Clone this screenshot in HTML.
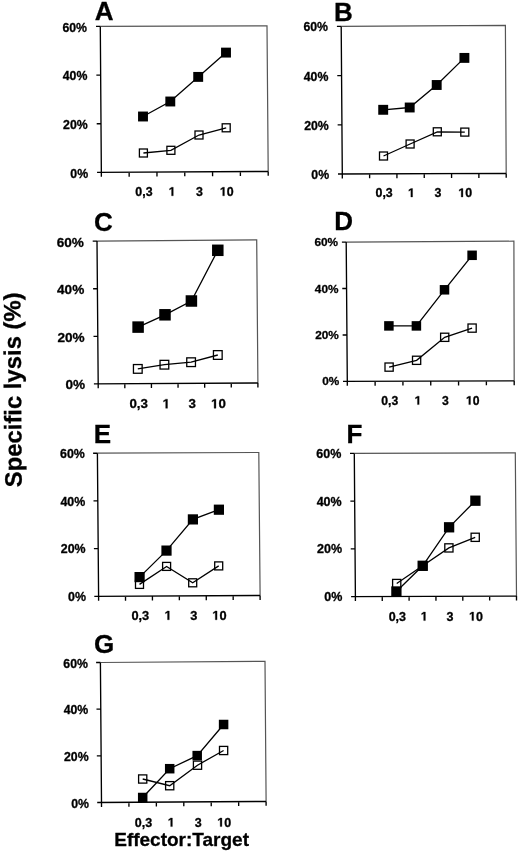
<!DOCTYPE html>
<html><head><meta charset="utf-8"><title>Specific lysis</title>
<style>
html,body{margin:0;padding:0;background:#fff;}
body{width:520px;height:852px;overflow:hidden;}
svg{display:block;will-change:transform;}
text{font-family:"Liberation Sans", sans-serif;font-weight:bold;fill:#000;stroke:#000;stroke-width:0.3px;}
</style></head>
<body>
<svg width="520" height="852" viewBox="0 0 520 852">
<rect width="520" height="852" fill="#fff"/>
<text x="94.75" y="20.20" font-size="26">A</text>
<path d="M100.30 26.40 L267.00 25.90 L268.20 171.40" fill="none" stroke="#555" stroke-width="1.2"/>
<text x="70.30" y="177.63" font-size="12.3">0%</text>
<text x="63.11" y="128.96" font-size="12.3">20%</text>
<text x="62.76" y="80.30" font-size="12.3">40%</text>
<text x="62.41" y="31.63" font-size="12.3">60%</text>
<path d="M100.30 26.40 L101.35 172.40 M97.05 172.40 L268.20 171.40 M97.05 172.40 H101.35 M96.70 123.73 H101.00 M96.35 75.07 H100.65 M96.00 26.40 H100.30 M129.16 172.23 V176.63 M156.97 172.07 V176.47 M184.77 171.90 V176.30 M212.58 171.73 V176.13 M240.39 171.57 V175.97 M268.20 171.40 V175.80 M101.35 172.40 V176.80" fill="none" stroke="#000" stroke-width="1.35"/>
<text x="135.36" y="195.80" font-size="12.4">0,3</text>
<path transform="translate(168.68 195.80) scale(0.00605 -0.00605)" d="M478 0V1170L140 959V1180L493 1409H759V0Z" fill="#000" stroke="#000" stroke-width="0.3" vector-effect="non-scaling-stroke"/>
<text x="196.03" y="195.80" font-size="12.4">3</text>
<path transform="translate(219.83 195.80) scale(0.00605 -0.00605)" d="M478 0V1170L140 959V1180L493 1409H759V0Z" fill="#000" stroke="#000" stroke-width="0.3" vector-effect="non-scaling-stroke"/>
<text x="226.73" y="195.80" font-size="12.4">0</text>
<rect x="139.40" y="149.00" width="8.00" height="8.00" fill="#fff" stroke="#000" stroke-width="1.3"/>
<rect x="166.90" y="146.30" width="8.00" height="8.00" fill="#fff" stroke="#000" stroke-width="1.3"/>
<rect x="195.00" y="131.00" width="8.00" height="8.00" fill="#fff" stroke="#000" stroke-width="1.3"/>
<rect x="222.20" y="123.80" width="8.00" height="8.00" fill="#fff" stroke="#000" stroke-width="1.3"/>
<rect x="138.05" y="111.55" width="9.90" height="9.90" fill="#000"/>
<rect x="165.35" y="96.55" width="9.90" height="9.90" fill="#000"/>
<rect x="193.25" y="71.95" width="9.90" height="9.90" fill="#000"/>
<rect x="221.05" y="47.65" width="9.90" height="9.90" fill="#000"/>
<path d="M143.00 116.50 L170.30 101.50 L198.20 76.90 L226.00 52.60" fill="none" stroke="#000" stroke-width="1.3"/>
<path d="M143.40 153.00 L170.90 150.30 L199.00 135.00 L226.20 127.80" fill="none" stroke="#000" stroke-width="1.3"/>
<text x="334.06" y="20.80" font-size="26">B</text>
<path d="M341.20 26.40 L505.40 25.40 L506.20 173.40" fill="none" stroke="#555" stroke-width="1.2"/>
<text x="311.35" y="179.03" font-size="12.3">0%</text>
<text x="304.14" y="129.83" font-size="12.3">20%</text>
<text x="303.77" y="80.63" font-size="12.3">40%</text>
<text x="303.41" y="31.43" font-size="12.3">60%</text>
<path d="M341.20 26.40 L342.30 174.00 M338.00 174.00 L506.20 173.40 M338.00 174.00 H342.30 M337.63 124.80 H341.93 M337.27 75.60 H341.57 M336.90 26.40 H341.20 M369.62 173.90 V178.30 M396.93 173.80 V178.20 M424.25 173.70 V178.10 M451.57 173.60 V178.00 M478.88 173.50 V177.90 M506.20 173.40 V177.80 M342.30 174.00 V178.40" fill="none" stroke="#000" stroke-width="1.35"/>
<text x="375.51" y="197.00" font-size="12.4">0,3</text>
<path transform="translate(407.98 197.00) scale(0.00605 -0.00605)" d="M478 0V1170L140 959V1180L493 1409H759V0Z" fill="#000" stroke="#000" stroke-width="0.3" vector-effect="non-scaling-stroke"/>
<text x="434.43" y="197.00" font-size="12.4">3</text>
<path transform="translate(458.33 197.00) scale(0.00605 -0.00605)" d="M478 0V1170L140 959V1180L493 1409H759V0Z" fill="#000" stroke="#000" stroke-width="0.3" vector-effect="non-scaling-stroke"/>
<text x="465.23" y="197.00" font-size="12.4">0</text>
<rect x="379.50" y="152.00" width="8.00" height="8.00" fill="#fff" stroke="#000" stroke-width="1.3"/>
<rect x="406.10" y="140.00" width="8.00" height="8.00" fill="#fff" stroke="#000" stroke-width="1.3"/>
<rect x="433.30" y="127.80" width="8.00" height="8.00" fill="#fff" stroke="#000" stroke-width="1.3"/>
<rect x="460.80" y="128.10" width="8.00" height="8.00" fill="#fff" stroke="#000" stroke-width="1.3"/>
<rect x="378.25" y="104.85" width="9.90" height="9.90" fill="#000"/>
<rect x="404.75" y="102.55" width="9.90" height="9.90" fill="#000"/>
<rect x="431.75" y="80.05" width="9.90" height="9.90" fill="#000"/>
<rect x="459.45" y="52.95" width="9.90" height="9.90" fill="#000"/>
<path d="M383.20 109.80 L409.70 107.50 L436.70 85.00 L464.40 57.90" fill="none" stroke="#000" stroke-width="1.3"/>
<path d="M383.50 156.00 L410.10 144.00 L437.30 131.80 L464.80 132.10" fill="none" stroke="#000" stroke-width="1.3"/>
<text x="94.03" y="230.50" font-size="26">C</text>
<path d="M97.00 241.10 L256.70 239.90 L257.90 383.00" fill="none" stroke="#555" stroke-width="1.2"/>
<text x="65.40" y="389.38" font-size="13.6">0%</text>
<text x="57.44" y="341.78" font-size="13.6">20%</text>
<text x="57.04" y="294.18" font-size="13.6">40%</text>
<text x="56.64" y="246.58" font-size="13.6">60%</text>
<path d="M97.00 241.10 L98.20 383.90 M93.90 383.90 L257.90 383.00 M93.90 383.90 H98.20 M93.50 336.30 H97.80 M93.10 288.70 H97.40 M92.70 241.10 H97.00 M124.82 383.75 V388.15 M151.43 383.60 V388.00 M178.05 383.45 V387.85 M204.67 383.30 V387.70 M231.28 383.15 V387.55 M257.90 383.00 V387.40 M98.20 383.90 V388.30" fill="none" stroke="#000" stroke-width="1.35"/>
<text x="129.48" y="408.30" font-size="13.3">0,3</text>
<path transform="translate(162.58 408.30) scale(0.00649 -0.00649)" d="M478 0V1170L140 959V1180L493 1409H759V0Z" fill="#000" stroke="#000" stroke-width="0.3" vector-effect="non-scaling-stroke"/>
<text x="188.44" y="408.30" font-size="13.3">3</text>
<path transform="translate(211.02 408.30) scale(0.00649 -0.00649)" d="M478 0V1170L140 959V1180L493 1409H759V0Z" fill="#000" stroke="#000" stroke-width="0.3" vector-effect="non-scaling-stroke"/>
<text x="218.42" y="408.30" font-size="13.3">0</text>
<rect x="133.45" y="364.55" width="8.70" height="8.70" fill="#fff" stroke="#000" stroke-width="1.3"/>
<rect x="160.05" y="360.35" width="8.70" height="8.70" fill="#fff" stroke="#000" stroke-width="1.3"/>
<rect x="186.75" y="357.85" width="8.70" height="8.70" fill="#fff" stroke="#000" stroke-width="1.3"/>
<rect x="213.45" y="350.65" width="8.70" height="8.70" fill="#fff" stroke="#000" stroke-width="1.3"/>
<rect x="132.35" y="321.35" width="11.50" height="11.50" fill="#000"/>
<rect x="159.25" y="309.05" width="11.50" height="11.50" fill="#000"/>
<rect x="185.65" y="295.25" width="11.50" height="11.50" fill="#000"/>
<rect x="212.05" y="244.55" width="11.50" height="11.50" fill="#000"/>
<path d="M138.10 327.10 L165.00 314.80 L191.40 301.00 L217.80 250.30" fill="none" stroke="#000" stroke-width="1.3"/>
<path d="M137.80 368.90 L164.40 364.70 L191.10 362.20 L217.80 355.00" fill="none" stroke="#000" stroke-width="1.3"/>
<text x="334.16" y="229.50" font-size="26">D</text>
<path d="M346.20 242.10 L513.90 241.20 L514.20 380.80" fill="none" stroke="#555" stroke-width="1.2"/>
<text x="322.16" y="385.46" font-size="11.8">0%</text>
<text x="315.23" y="339.03" font-size="11.8">20%</text>
<text x="314.86" y="292.59" font-size="11.8">40%</text>
<text x="314.49" y="246.16" font-size="11.8">60%</text>
<path d="M346.20 242.10 L347.30 381.40 M343.00 381.40 L514.20 380.80 M343.00 381.40 H347.30 M342.63 334.97 H346.93 M342.27 288.53 H346.57 M341.90 242.10 H346.20 M375.12 381.30 V385.70 M402.93 381.20 V385.60 M430.75 381.10 V385.50 M458.57 381.00 V385.40 M486.38 380.90 V385.30 M514.20 380.80 V385.20 M347.30 381.40 V385.80" fill="none" stroke="#000" stroke-width="1.35"/>
<text x="381.30" y="404.60" font-size="12.2">0,3</text>
<path transform="translate(414.62 404.60) scale(0.00596 -0.00596)" d="M478 0V1170L140 959V1180L493 1409H759V0Z" fill="#000" stroke="#000" stroke-width="0.3" vector-effect="non-scaling-stroke"/>
<text x="442.09" y="404.60" font-size="12.2">3</text>
<path transform="translate(465.95 404.60) scale(0.00596 -0.00596)" d="M478 0V1170L140 959V1180L493 1409H759V0Z" fill="#000" stroke="#000" stroke-width="0.3" vector-effect="non-scaling-stroke"/>
<text x="472.73" y="404.60" font-size="12.2">0</text>
<rect x="385.00" y="363.00" width="8.20" height="8.20" fill="#fff" stroke="#000" stroke-width="1.3"/>
<rect x="412.50" y="356.20" width="8.20" height="8.20" fill="#fff" stroke="#000" stroke-width="1.3"/>
<rect x="440.60" y="333.20" width="8.20" height="8.20" fill="#fff" stroke="#000" stroke-width="1.3"/>
<rect x="468.00" y="324.00" width="8.20" height="8.20" fill="#fff" stroke="#000" stroke-width="1.3"/>
<rect x="384.15" y="321.15" width="9.50" height="9.50" fill="#000"/>
<rect x="411.65" y="321.15" width="9.50" height="9.50" fill="#000"/>
<rect x="439.75" y="285.05" width="9.50" height="9.50" fill="#000"/>
<rect x="467.35" y="250.55" width="9.50" height="9.50" fill="#000"/>
<path d="M388.90 325.90 L416.40 325.90 L444.50 289.80 L472.10 255.30" fill="none" stroke="#000" stroke-width="1.3"/>
<path d="M389.10 367.10 L416.60 360.30 L444.70 337.30 L472.10 328.10" fill="none" stroke="#000" stroke-width="1.3"/>
<text x="93.66" y="443.30" font-size="26">E</text>
<path d="M97.40 453.20 L258.80 452.50 L260.10 595.50" fill="none" stroke="#555" stroke-width="1.2"/>
<text x="68.11" y="601.07" font-size="12.4">0%</text>
<text x="60.81" y="553.33" font-size="12.4">20%</text>
<text x="60.41" y="505.60" font-size="12.4">40%</text>
<text x="60.01" y="457.87" font-size="12.4">60%</text>
<path d="M97.40 453.20 L98.60 596.40 M94.30 596.40 L260.10 595.50 M94.30 596.40 H98.60 M93.90 548.67 H98.20 M93.50 500.93 H97.80 M93.10 453.20 H97.40 M125.52 596.25 V600.65 M152.43 596.10 V600.50 M179.35 595.95 V600.35 M206.27 595.80 V600.20 M233.18 595.65 V600.05 M260.10 595.50 V599.90 M98.60 596.40 V600.80" fill="none" stroke="#000" stroke-width="1.35"/>
<text x="131.43" y="619.80" font-size="12.8">0,3</text>
<path transform="translate(164.54 619.80) scale(0.00625 -0.00625)" d="M478 0V1170L140 959V1180L493 1409H759V0Z" fill="#000" stroke="#000" stroke-width="0.3" vector-effect="non-scaling-stroke"/>
<text x="190.13" y="619.80" font-size="12.8">3</text>
<path transform="translate(212.31 619.80) scale(0.00625 -0.00625)" d="M478 0V1170L140 959V1180L493 1409H759V0Z" fill="#000" stroke="#000" stroke-width="0.3" vector-effect="non-scaling-stroke"/>
<text x="219.43" y="619.80" font-size="12.8">0</text>
<rect x="135.50" y="580.40" width="8.00" height="8.00" fill="#fff" stroke="#000" stroke-width="1.3"/>
<rect x="162.60" y="562.40" width="8.00" height="8.00" fill="#fff" stroke="#000" stroke-width="1.3"/>
<rect x="188.70" y="578.80" width="8.00" height="8.00" fill="#fff" stroke="#000" stroke-width="1.3"/>
<rect x="214.70" y="561.90" width="8.00" height="8.00" fill="#fff" stroke="#000" stroke-width="1.3"/>
<rect x="134.50" y="572.00" width="10.20" height="10.20" fill="#000"/>
<rect x="161.40" y="545.50" width="10.20" height="10.20" fill="#000"/>
<rect x="187.80" y="514.30" width="10.20" height="10.20" fill="#000"/>
<rect x="213.80" y="504.60" width="10.20" height="10.20" fill="#000"/>
<path d="M139.60 577.10 L166.50 550.60 L192.90 519.40 L218.90 509.70" fill="none" stroke="#000" stroke-width="1.3"/>
<path d="M139.50 584.40 L166.60 566.40 L192.70 582.80 L218.70 565.90" fill="none" stroke="#000" stroke-width="1.3"/>
<text x="346.46" y="443.30" font-size="26">F</text>
<path d="M354.30 453.40 L515.30 452.90 L516.50 596.10" fill="none" stroke="#555" stroke-width="1.2"/>
<text x="324.36" y="601.20" font-size="12.5">0%</text>
<text x="317.04" y="553.47" font-size="12.5">20%</text>
<text x="316.68" y="505.73" font-size="12.5">40%</text>
<text x="316.31" y="458.00" font-size="12.5">60%</text>
<path d="M354.30 453.40 L355.40 596.60 M351.10 596.60 L516.50 596.10 M351.10 596.60 H355.40 M350.73 548.87 H355.03 M350.37 501.13 H354.67 M350.00 453.40 H354.30 M382.25 596.52 V600.92 M409.10 596.43 V600.83 M435.95 596.35 V600.75 M462.80 596.27 V600.67 M489.65 596.18 V600.58 M516.50 596.10 V600.50 M355.40 596.60 V601.00" fill="none" stroke="#000" stroke-width="1.35"/>
<text x="388.64" y="620.60" font-size="12.5">0,3</text>
<path transform="translate(420.76 620.60) scale(0.00610 -0.00610)" d="M478 0V1170L140 959V1180L493 1409H759V0Z" fill="#000" stroke="#000" stroke-width="0.3" vector-effect="non-scaling-stroke"/>
<text x="446.41" y="620.60" font-size="12.5">3</text>
<path transform="translate(468.98 620.60) scale(0.00610 -0.00610)" d="M478 0V1170L140 959V1180L493 1409H759V0Z" fill="#000" stroke="#000" stroke-width="0.3" vector-effect="non-scaling-stroke"/>
<text x="475.93" y="620.60" font-size="12.5">0</text>
<rect x="392.60" y="579.40" width="8.20" height="8.20" fill="#fff" stroke="#000" stroke-width="1.3"/>
<rect x="418.60" y="561.70" width="8.20" height="8.20" fill="#fff" stroke="#000" stroke-width="1.3"/>
<rect x="444.80" y="543.80" width="8.20" height="8.20" fill="#fff" stroke="#000" stroke-width="1.3"/>
<rect x="471.10" y="533.20" width="8.20" height="8.20" fill="#fff" stroke="#000" stroke-width="1.3"/>
<rect x="391.25" y="586.35" width="10.30" height="10.30" fill="#000"/>
<rect x="417.55" y="560.65" width="10.30" height="10.30" fill="#000"/>
<rect x="443.95" y="522.15" width="10.30" height="10.30" fill="#000"/>
<rect x="470.25" y="495.55" width="10.30" height="10.30" fill="#000"/>
<path d="M396.40 591.50 L422.70 565.80 L449.10 527.30 L475.40 500.70" fill="none" stroke="#000" stroke-width="1.3"/>
<path d="M396.70 583.50 L422.70 565.80 L448.90 547.90 L475.20 537.30" fill="none" stroke="#000" stroke-width="1.3"/>
<text x="94.03" y="653.00" font-size="26">G</text>
<path d="M100.40 662.50 L265.00 661.40 L266.10 801.40" fill="none" stroke="#555" stroke-width="1.2"/>
<text x="71.25" y="807.73" font-size="12.3">0%</text>
<text x="64.04" y="761.06" font-size="12.3">20%</text>
<text x="63.67" y="714.40" font-size="12.3">40%</text>
<text x="63.31" y="667.73" font-size="12.3">60%</text>
<path d="M100.40 662.50 L101.50 802.50 M97.20 802.50 L266.10 801.40 M97.20 802.50 H101.50 M96.83 755.83 H101.13 M96.47 709.17 H100.77 M96.10 662.50 H100.40 M128.93 802.32 V806.72 M156.37 802.13 V806.53 M183.80 801.95 V806.35 M211.23 801.77 V806.17 M238.67 801.58 V805.98 M266.10 801.40 V805.80 M101.50 802.50 V806.90" fill="none" stroke="#000" stroke-width="1.35"/>
<text x="134.79" y="826.60" font-size="12.5">0,3</text>
<path transform="translate(167.76 826.60) scale(0.00610 -0.00610)" d="M478 0V1170L140 959V1180L493 1409H759V0Z" fill="#000" stroke="#000" stroke-width="0.3" vector-effect="non-scaling-stroke"/>
<text x="194.76" y="826.60" font-size="12.5">3</text>
<path transform="translate(217.28 826.60) scale(0.00610 -0.00610)" d="M478 0V1170L140 959V1180L493 1409H759V0Z" fill="#000" stroke="#000" stroke-width="0.3" vector-effect="non-scaling-stroke"/>
<text x="224.23" y="826.60" font-size="12.5">0</text>
<rect x="138.60" y="774.90" width="8.20" height="8.20" fill="#fff" stroke="#000" stroke-width="1.3"/>
<rect x="165.60" y="781.60" width="8.20" height="8.20" fill="#fff" stroke="#000" stroke-width="1.3"/>
<rect x="193.40" y="761.10" width="8.20" height="8.20" fill="#fff" stroke="#000" stroke-width="1.3"/>
<rect x="219.50" y="746.40" width="8.20" height="8.20" fill="#fff" stroke="#000" stroke-width="1.3"/>
<rect x="137.95" y="792.75" width="9.50" height="9.50" fill="#000"/>
<rect x="164.95" y="763.95" width="9.50" height="9.50" fill="#000"/>
<rect x="192.45" y="750.85" width="9.50" height="9.50" fill="#000"/>
<rect x="218.85" y="719.75" width="9.50" height="9.50" fill="#000"/>
<path d="M142.70 797.50 L169.70 768.70 L197.20 755.60 L223.60 724.50" fill="none" stroke="#000" stroke-width="1.3"/>
<path d="M142.70 779.00 L169.70 785.70 L197.50 765.20 L223.60 750.50" fill="none" stroke="#000" stroke-width="1.3"/>
<text transform="translate(21.7 487.19) rotate(-90.4)" font-size="23.85">Specific lysis (%)</text>
<text x="114.23" y="845.80" font-size="19.0">Effector:Target</text>
</svg>
</body></html>
